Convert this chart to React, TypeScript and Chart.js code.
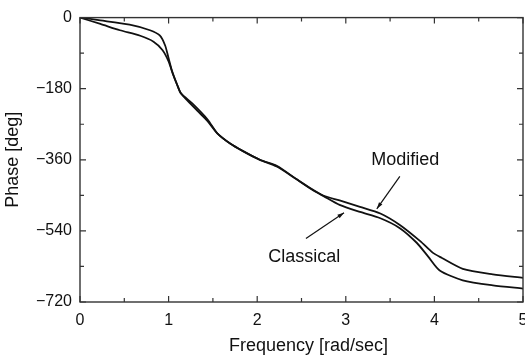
import React, { useEffect, useRef } from "react";
import { Chart, registerables } from "chart.js";

Chart.register(...registerables);

// Frequency (rad/sec) and phase (deg)
const modifiedFreq = [0, 0.23, 0.56, 0.79, 0.9, 0.96, 1.0, 1.04, 1.1, 1.14, 1.27, 1.44, 1.55, 1.69, 1.84, 2.03, 2.22, 2.45, 2.63, 2.75, 2.93, 3.16, 3.39, 3.61, 3.84, 3.98, 4.08, 4.32, 4.66, 5.0];
const modifiedPhase = [0, -7, -18, -32, -45, -70, -103, -136, -172, -192, -218, -258, -293, -318, -338, -360, -377, -410, -436, -451, -463, -479, -496, -525, -566, -595, -608, -636, -650, -659];

const classicalFreq = [0, 0.23, 0.45, 0.68, 0.83, 0.93, 1.0, 1.05, 1.1, 1.14, 1.32, 1.44, 1.55, 1.69, 1.84, 2.03, 2.22, 2.45, 2.63, 2.75, 2.93, 3.16, 3.39, 3.61, 3.8, 3.93, 4.06, 4.32, 4.66, 5.0];
const classicalPhase = [0, -16, -32, -46, -61, -82, -111, -144, -172, -192, -235, -262, -293, -318, -338, -360, -375, -410, -437, -452, -474, -492, -508, -533, -570, -605, -640, -665, -678, -686];

const xTicks = [0, 1, 2, 3, 4, 5];
const xMinorTicks = [0.5, 1.5, 2.5, 3.5, 4.5];
const yTicks = [0, -180, -360, -540, -720];
const yMinorTicks = [-90, -270, -450, -630];

const xTitle = "Frequency [rad/sec]";
const yTitle = "Phase [deg]";

// Annotations in data units: label position, arrow tail, arrow tip
const annotations = [
  { text: "Modified", label: [3.67, -360], tail: [3.61, -402], tip: [3.35, -484] },
  { text: "Classical", label: [2.53, -606], tail: [2.55, -559], tip: [2.98, -494] },
];

const FONT = "'Liberation Sans', Arial, Helvetica, sans-serif";
const INK = "#111";

const framePlugin = {
  id: "frame",
  afterDraw(chart: any) {
    const { ctx, chartArea } = chart;
    const xs = chart.scales.x;
    const ys = chart.scales.y;
    const { left, right, top, bottom } = chartArea;
    ctx.save();
    ctx.strokeStyle = "#333";
    ctx.lineWidth = 1.4;
    ctx.strokeRect(left, top, right - left, bottom - top);
    ctx.lineWidth = 1.2;
    const drawX = (v: number, len: number) => {
      const p = xs.getPixelForValue(v);
      ctx.beginPath();
      ctx.moveTo(p, bottom);
      ctx.lineTo(p, bottom - len);
      ctx.moveTo(p, top);
      ctx.lineTo(p, top + len);
      ctx.stroke();
    };
    const drawY = (v: number, len: number) => {
      const p = ys.getPixelForValue(v);
      ctx.beginPath();
      ctx.moveTo(left, p);
      ctx.lineTo(left + len, p);
      ctx.moveTo(right, p);
      ctx.lineTo(right - len, p);
      ctx.stroke();
    };
    xTicks.forEach((v) => drawX(v, 6));
    xMinorTicks.forEach((v) => drawX(v, 4));
    yTicks.forEach((v) => drawY(v, 6));
    yMinorTicks.forEach((v) => drawY(v, 4));

    // x axis title (slightly right of centre, as in the original)
    ctx.fillStyle = INK;
    ctx.strokeStyle = INK;
    ctx.font = `18px ${FONT}`;
    ctx.textAlign = "center";
    ctx.textBaseline = "middle";
    ctx.fillText(xTitle, (left + right) / 2 + 7, 346);

    // annotations
    annotations.forEach((a) => {
      ctx.fillText(a.text, xs.getPixelForValue(a.label[0]), ys.getPixelForValue(a.label[1]));
      const x1 = xs.getPixelForValue(a.tail[0]);
      const y1 = ys.getPixelForValue(a.tail[1]);
      const x2 = xs.getPixelForValue(a.tip[0]);
      const y2 = ys.getPixelForValue(a.tip[1]);
      ctx.lineWidth = 1.2;
      ctx.beginPath();
      ctx.moveTo(x1, y1);
      ctx.lineTo(x2, y2);
      ctx.stroke();
      const ang = Math.atan2(y2 - y1, x2 - x1);
      const hl = 7;
      const hw = 0.3;
      ctx.beginPath();
      ctx.moveTo(x2, y2);
      ctx.lineTo(x2 - hl * Math.cos(ang - hw), y2 - hl * Math.sin(ang - hw));
      ctx.lineTo(x2 - hl * Math.cos(ang + hw), y2 - hl * Math.sin(ang + hw));
      ctx.closePath();
      ctx.fill();
    });
    ctx.restore();
  },
};

export default function App() {
  const ref = useRef<HTMLCanvasElement | null>(null);
  useEffect(() => {
    if (!ref.current) return;
    const toPts = (xs: number[], ys: number[]) => xs.map((x, i) => ({ x, y: ys[i] }));
    const chart = new Chart(ref.current, {
      type: "line",
      data: {
        datasets: [
          {
            label: "Modified",
            data: toPts(modifiedFreq, modifiedPhase),
            borderColor: INK,
            borderWidth: 1.8,
            pointRadius: 0,
            tension: 0.25,
            fill: false,
          },
          {
            label: "Classical",
            data: toPts(classicalFreq, classicalPhase),
            borderColor: INK,
            borderWidth: 1.8,
            pointRadius: 0,
            tension: 0.25,
            fill: false,
          },
        ],
      },
      options: {
        animation: false,
        responsive: true,
        maintainAspectRatio: false,
        layout: { padding: { top: 12, right: 2, left: 0, bottom: 0 } },
        plugins: { legend: { display: false }, tooltip: { enabled: false } },
        scales: {
          x: {
            type: "linear",
            min: 0,
            max: 5,
            grid: { display: false, drawTicks: false },
            border: { display: false },
            ticks: {
              stepSize: 1,
              padding: 9,
              color: INK,
              font: { family: FONT, size: 16 },
              callback: (v: any) => String(v),
            },
            title: { display: false },
            afterFit: (s: any) => {
              s.height = 57;
              s.paddingLeft = 0;
              s.paddingRight = 0;
            },
          },
          y: {
            type: "linear",
            min: -720,
            max: 0,
            grid: { display: false, drawTicks: false },
            border: { display: false },
            ticks: {
              stepSize: 180,
              padding: 8,
              color: INK,
              font: { family: FONT, size: 16 },
              callback: (v: any) => (v < 0 ? "\u2212" + Math.abs(v) : String(v)),
            },
            title: {
              display: true,
              text: yTitle,
              color: INK,
              font: { family: FONT, size: 18 },
              padding: { top: 2, bottom: 2 },
            },
            afterFit: (s: any) => {
              s.width = 80;
            },
          },
        },
      },
      plugins: [framePlugin],
    });
    return () => chart.destroy();
  }, []);
  return (
    <div style={{ position: "fixed", left: 0, top: 0, width: 525, height: 359, background: "#fff" }}>
      <canvas ref={ref} />
    </div>
  );
}
